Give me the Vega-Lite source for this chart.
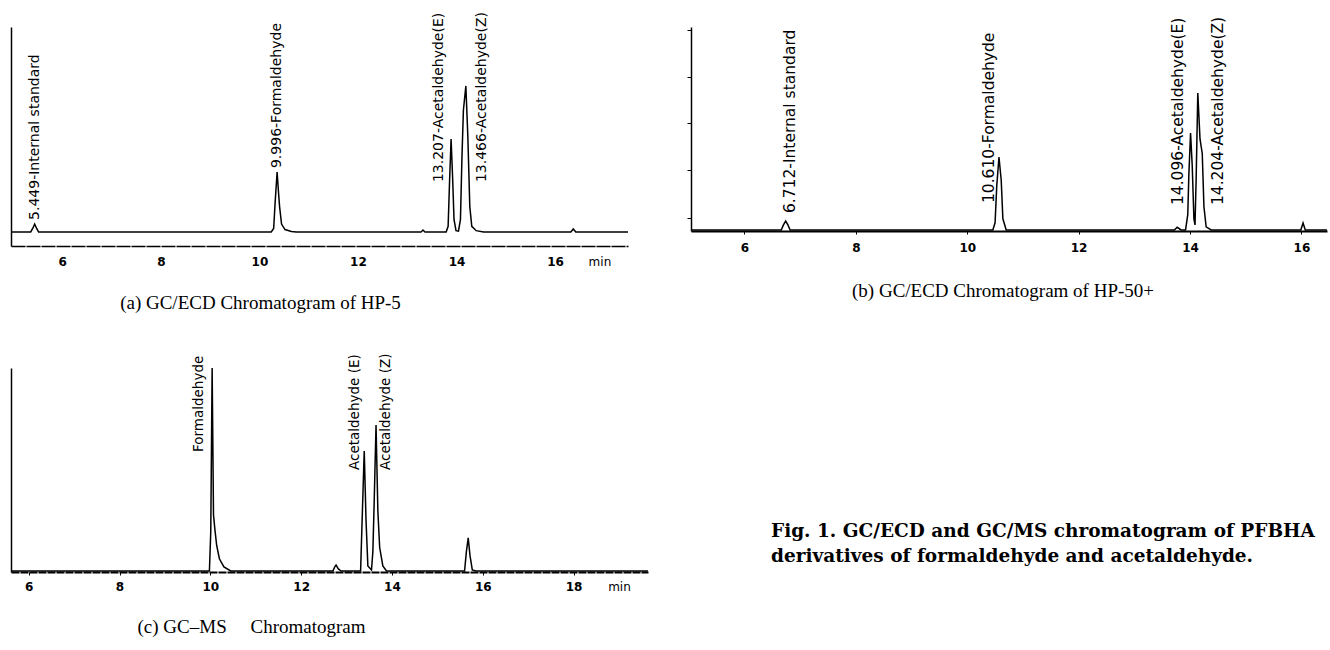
{
  "$schema": "https://vega.github.io/schema/vega-lite/v6.json",
  "background": "white",
  "padding": {"left": 8, "top": 12, "right": 0, "bottom": 0},
  "config": {
    "view": {"stroke": null},
    "axis": {"grid": false, "domainColor": "black", "tickColor": "black", "labelColor": "black", "labelFont": "DejaVu Sans", "labelFontSize": 12, "labelOverlap": false, "labelFlush": false},
    "title": {"font": "Liberation Serif", "fontSize": 19, "fontWeight": "normal", "color": "black", "orient": "bottom", "anchor": "middle"}
  },
  "datasets": {
    "a_trace": [
      {"t": 4.97, "s": 6.4}, {"t": 5.36, "s": 6.4}, {"t": 5.40, "s": 8}, {"t": 5.44, "s": 10}, {"t": 5.48, "s": 8}, {"t": 5.52, "s": 6.4},
      {"t": 10.24, "s": 6.4}, {"t": 10.29, "s": 8}, {"t": 10.32, "s": 20}, {"t": 10.36, "s": 33.8}, {"t": 10.39, "s": 24}, {"t": 10.41, "s": 18}, {"t": 10.45, "s": 10}, {"t": 10.52, "s": 7.5}, {"t": 10.65, "s": 6.6}, {"t": 10.75, "s": 6.4},
      {"t": 13.28, "s": 6.4}, {"t": 13.32, "s": 7.3}, {"t": 13.36, "s": 6.4},
      {"t": 13.79, "s": 6.4}, {"t": 13.83, "s": 9}, {"t": 13.86, "s": 30}, {"t": 13.89, "s": 48.9}, {"t": 13.92, "s": 32}, {"t": 13.95, "s": 12}, {"t": 13.99, "s": 7}, {"t": 14.04, "s": 6.8}, {"t": 14.08, "s": 12}, {"t": 14.11, "s": 40}, {"t": 14.14, "s": 62}, {"t": 14.19, "s": 73.1}, {"t": 14.23, "s": 50}, {"t": 14.27, "s": 18}, {"t": 14.31, "s": 9}, {"t": 14.40, "s": 7}, {"t": 14.55, "s": 6.4},
      {"t": 16.32, "s": 6.4}, {"t": 16.37, "s": 7.8}, {"t": 16.42, "s": 6.4}, {"t": 17.48, "s": 6.4}
    ],
    "a_labels": [
      {"t": 5.45, "s": 11.9, "label": "5.449-Internal standard"},
      {"t": 10.36, "s": 35.6, "label": "9.996-Formaldehyde"},
      {"t": 13.64, "s": 29.2, "label": "13.207-Acetaldehyde(E)"},
      {"t": 14.51, "s": 29.2, "label": "13.466-Acetaldehyde(Z)"}
    ],
    "b_trace": [
      {"t": 5.04, "s": 0.5}, {"t": 6.66, "s": 0.5}, {"t": 6.70, "s": 3}, {"t": 6.74, "s": 4.9}, {"t": 6.78, "s": 3}, {"t": 6.82, "s": 0.5},
      {"t": 10.46, "s": 0.5}, {"t": 10.50, "s": 4}, {"t": 10.53, "s": 22}, {"t": 10.57, "s": 36.3}, {"t": 10.61, "s": 25}, {"t": 10.64, "s": 6}, {"t": 10.70, "s": 0.5},
      {"t": 13.72, "s": 0.5}, {"t": 13.77, "s": 1.8}, {"t": 13.84, "s": 0.5},
      {"t": 13.92, "s": 0.5}, {"t": 13.96, "s": 8}, {"t": 13.98, "s": 28}, {"t": 14.01, "s": 48}, {"t": 14.04, "s": 32}, {"t": 14.07, "s": 6}, {"t": 14.09, "s": 3}, {"t": 14.11, "s": 25}, {"t": 14.14, "s": 67.6}, {"t": 14.18, "s": 45}, {"t": 14.22, "s": 38}, {"t": 14.25, "s": 12}, {"t": 14.29, "s": 2}, {"t": 14.38, "s": 0.5},
      {"t": 15.99, "s": 0.5}, {"t": 16.03, "s": 3.9}, {"t": 16.07, "s": 0.5}, {"t": 16.46, "s": 0.5}
    ],
    "b_labels": [
      {"t": 6.82, "s": 8.8, "label": "6.712-Internal standard"},
      {"t": 10.39, "s": 13.7, "label": "10.610-Formaldehyde"},
      {"t": 13.78, "s": 12.7, "label": "14.096-Acetaldehyde(E)"},
      {"t": 14.51, "s": 12.7, "label": "14.204-Acetaldehyde(Z)"}
    ],
    "c_trace": [
      {"t": 5.61, "s": 0.5}, {"t": 9.98, "s": 0.5}, {"t": 10.01, "s": 20}, {"t": 10.04, "s": 100}, {"t": 10.07, "s": 28}, {"t": 10.10, "s": 21}, {"t": 10.14, "s": 13}, {"t": 10.20, "s": 6.5}, {"t": 10.30, "s": 2.5}, {"t": 10.45, "s": 0.5},
      {"t": 12.70, "s": 0.5}, {"t": 12.74, "s": 2.5}, {"t": 12.77, "s": 3.4}, {"t": 12.82, "s": 1.5}, {"t": 12.88, "s": 0.5},
      {"t": 13.31, "s": 0.5}, {"t": 13.35, "s": 30}, {"t": 13.39, "s": 59.3}, {"t": 13.43, "s": 25}, {"t": 13.47, "s": 3}, {"t": 13.55, "s": 1}, {"t": 13.58, "s": 10}, {"t": 13.61, "s": 35}, {"t": 13.65, "s": 72}, {"t": 13.69, "s": 30}, {"t": 13.73, "s": 12}, {"t": 13.80, "s": 3}, {"t": 13.88, "s": 0.5},
      {"t": 15.60, "s": 0.5}, {"t": 15.64, "s": 10}, {"t": 15.68, "s": 16.7}, {"t": 15.72, "s": 8}, {"t": 15.77, "s": 1}, {"t": 15.85, "s": 0.5}, {"t": 19.64, "s": 0.5}
    ],
    "c_labels": [
      {"t": 9.74, "s": 58.8, "label": "Formaldehyde"},
      {"t": 13.18, "s": 50, "label": "Acetaldehyde (E)"},
      {"t": 13.86, "s": 50, "label": "Acetaldehyde (Z)"}
    ],
    "caption": [
      {"line": 1, "text": "Fig. 1. GC/ECD and GC/MS chromatogram of PFBHA"},
      {"line": 2, "text": "derivatives of formaldehyde and acetaldehyde."}
    ]
  },
  "spacing": 40,
  "vconcat": [
    {
      "spacing": 55,
      "hconcat": [
        {
          "width": 617, "height": 219,
          "title": {"text": "(a) GC/ECD Chromatogram of HP-5", "offset": 27, "dx": -59},
          "layer": [
            {
              "data": {"name": "a_trace"},
              "mark": {"type": "line", "color": "black", "strokeWidth": 1.5},
              "encoding": {
                "x": {"field": "t", "type": "quantitative", "scale": {"domain": [4.96, 17.48], "nice": false, "zero": false},
                      "axis": {"values": [6, 8, 10, 12, 14, 16, 16.9], "labelExpr": "datum.value > 16.5 ? 'min' : datum.label", "ticks": false, "labelPadding": 10, "domainWidth": 1.5, "domainDash": [14, 1], "title": null,
                               "labelFontWeight": {"condition": {"test": "datum.value > 16.5", "value": "normal"}, "value": "bold"}}},
                "y": {"field": "s", "type": "quantitative", "scale": {"domain": [0, 100], "nice": false}, "axis": {"ticks": false, "labels": false, "title": null, "domainWidth": 1.5}}
              }
            },
            {
              "data": {"name": "a_labels"},
              "mark": {"type": "text", "angle": 270, "align": "left", "baseline": "middle", "font": "DejaVu Sans", "fontSize": 14, "color": "black"},
              "encoding": {
                "x": {"field": "t", "type": "quantitative"},
                "y": {"field": "s", "type": "quantitative"},
                "text": {"field": "label"}
              }
            }
          ]
        },
        {
          "width": 636, "height": 204,
          "title": {"text": "(b) GC/ECD Chromatogram of HP-50+", "offset": 29, "dx": -6},
          "layer": [
            {
              "data": {"name": "b_trace"},
              "mark": {"type": "line", "color": "black", "strokeWidth": 1.5},
              "encoding": {
                "x": {"field": "t", "type": "quantitative", "scale": {"domain": [5.04, 16.46], "nice": false, "zero": false},
                      "axis": {"values": [6, 8, 10, 12, 14, 16], "tickSize": 3, "labelPadding": 8, "domainWidth": 2, "title": null, "labelFontWeight": "bold"}},
                "y": {"field": "s", "type": "quantitative", "scale": {"domain": [0, 100], "nice": false},
                      "axis": {"values": [6.4, 29.9, 52.9, 75.5, 98.5], "tickSize": 4, "labels": false, "title": null, "domainWidth": 1.5}}
              }
            },
            {
              "data": {"name": "b_labels"},
              "mark": {"type": "text", "angle": 270, "align": "left", "baseline": "middle", "font": "DejaVu Sans", "fontSize": 15.5, "color": "black"},
              "encoding": {
                "x": {"field": "t", "type": "quantitative"},
                "y": {"field": "s", "type": "quantitative"},
                "text": {"field": "label"}
              }
            }
          ]
        }
      ]
    },
    {
      "spacing": 120,
      "hconcat": [
        {
          "width": 637, "height": 204,
          "title": {"text": "(c) GC\u2013MS\u00a0\u00a0\u00a0\u00a0\u00a0Chromatogram", "offset": 26, "dx": -78},
          "layer": [
            {
              "data": {"name": "c_trace"},
              "mark": {"type": "line", "color": "black", "strokeWidth": 1.5},
              "encoding": {
                "x": {"field": "t", "type": "quantitative", "scale": {"domain": [5.61, 19.64], "nice": false, "zero": false},
                      "axis": {"values": [6, 8, 10, 12, 14, 16, 18, 19.0], "labelExpr": "datum.value > 18.5 ? 'min' : datum.label", "tickSize": 3, "labelPadding": 6, "domainWidth": 2, "domainDash": [8, 1], "title": null,
                               "tickOpacity": {"condition": {"test": "datum.value > 18.5", "value": 0}, "value": 1},
                               "labelFontWeight": {"condition": {"test": "datum.value > 18.5", "value": "normal"}, "value": "bold"}}},
                "y": {"field": "s", "type": "quantitative", "scale": {"domain": [0, 100], "nice": false}, "axis": {"ticks": false, "labels": false, "title": null, "domainWidth": 1.5}}
              }
            },
            {
              "data": {"name": "c_labels"},
              "mark": {"type": "text", "angle": 270, "align": "left", "baseline": "middle", "font": "DejaVu Sans", "fontSize": 13.5, "color": "black"},
              "encoding": {
                "x": {"field": "t", "type": "quantitative"},
                "y": {"field": "s", "type": "quantitative"},
                "text": {"field": "label"}
              }
            }
          ]
        },
        {
          "width": 560, "height": 204,
          "data": {"name": "caption"},
          "mark": {"type": "text", "align": "left", "baseline": "middle", "font": "DejaVu Serif", "fontSize": 18.5, "fontWeight": "bold", "color": "black"},
          "encoding": {
            "x": {"datum": 0, "type": "quantitative", "scale": {"domain": [0, 1], "nice": false}, "axis": null},
            "y": {"field": "line", "type": "quantitative", "scale": {"domain": [-5.52, 2.64], "reverse": true, "nice": false, "zero": false}, "axis": null},
            "text": {"field": "text"}
          }
        }
      ]
    }
  ]
}
